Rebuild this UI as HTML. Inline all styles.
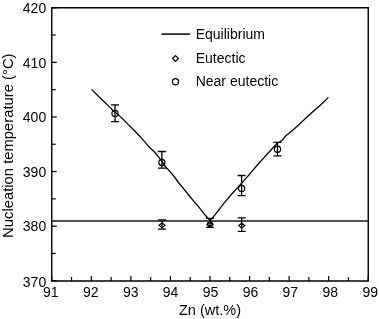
<!DOCTYPE html>
<html><head><meta charset="utf-8"><style>
html,body{margin:0;padding:0;background:#fff;}
body{width:379px;height:319px;overflow:hidden;}
svg{display:block;will-change:transform;filter:blur(0.3px);}
text{font-family:"Liberation Sans",sans-serif;font-size:14px;fill:#000;}
</style></head><body>
<svg width="379" height="319" viewBox="0 0 379 319">
<path d="M51.75 7.75 H368.25 V281 H51.75 Z" fill="none" stroke="#000" stroke-width="1.4"/>
<line x1="51.75" y1="280.75" x2="56.75" y2="280.75" stroke="#000" stroke-width="1.2"/>
<line x1="51.75" y1="253.45" x2="55.75" y2="253.45" stroke="#000" stroke-width="1.2"/>
<line x1="51.75" y1="226.15" x2="56.75" y2="226.15" stroke="#000" stroke-width="1.2"/>
<line x1="51.75" y1="198.85" x2="55.75" y2="198.85" stroke="#000" stroke-width="1.2"/>
<line x1="51.75" y1="171.55" x2="56.75" y2="171.55" stroke="#000" stroke-width="1.2"/>
<line x1="51.75" y1="144.25" x2="55.75" y2="144.25" stroke="#000" stroke-width="1.2"/>
<line x1="51.75" y1="116.95" x2="56.75" y2="116.95" stroke="#000" stroke-width="1.2"/>
<line x1="51.75" y1="89.65" x2="55.75" y2="89.65" stroke="#000" stroke-width="1.2"/>
<line x1="51.75" y1="62.35" x2="56.75" y2="62.35" stroke="#000" stroke-width="1.2"/>
<line x1="51.75" y1="35.05" x2="55.75" y2="35.05" stroke="#000" stroke-width="1.2"/>
<line x1="51.75" y1="7.75" x2="56.75" y2="7.75" stroke="#000" stroke-width="1.2"/>
<line x1="51.75" y1="281" x2="51.75" y2="276.00" stroke="#000" stroke-width="1.2"/>
<line x1="71.53" y1="281" x2="71.53" y2="277.00" stroke="#000" stroke-width="1.2"/>
<line x1="91.31" y1="281" x2="91.31" y2="276.00" stroke="#000" stroke-width="1.2"/>
<line x1="111.09" y1="281" x2="111.09" y2="277.00" stroke="#000" stroke-width="1.2"/>
<line x1="130.88" y1="281" x2="130.88" y2="276.00" stroke="#000" stroke-width="1.2"/>
<line x1="150.66" y1="281" x2="150.66" y2="277.00" stroke="#000" stroke-width="1.2"/>
<line x1="170.44" y1="281" x2="170.44" y2="276.00" stroke="#000" stroke-width="1.2"/>
<line x1="190.22" y1="281" x2="190.22" y2="277.00" stroke="#000" stroke-width="1.2"/>
<line x1="210.00" y1="281" x2="210.00" y2="276.00" stroke="#000" stroke-width="1.2"/>
<line x1="229.78" y1="281" x2="229.78" y2="277.00" stroke="#000" stroke-width="1.2"/>
<line x1="249.56" y1="281" x2="249.56" y2="276.00" stroke="#000" stroke-width="1.2"/>
<line x1="269.34" y1="281" x2="269.34" y2="277.00" stroke="#000" stroke-width="1.2"/>
<line x1="289.12" y1="281" x2="289.12" y2="276.00" stroke="#000" stroke-width="1.2"/>
<line x1="308.91" y1="281" x2="308.91" y2="277.00" stroke="#000" stroke-width="1.2"/>
<line x1="328.69" y1="281" x2="328.69" y2="276.00" stroke="#000" stroke-width="1.2"/>
<line x1="348.47" y1="281" x2="348.47" y2="277.00" stroke="#000" stroke-width="1.2"/>
<line x1="368.25" y1="281" x2="368.25" y2="276.00" stroke="#000" stroke-width="1.2"/>
<text x="46.2" y="12.8" text-anchor="end">420</text>
<text x="46.2" y="67.8" text-anchor="end">410</text>
<text x="46.2" y="121.85" text-anchor="end">400</text>
<text x="46.2" y="176.95" text-anchor="end">390</text>
<text x="46.2" y="231.0" text-anchor="end">380</text>
<text x="46.2" y="286.7" text-anchor="end">370</text>
<text x="50.83" y="297.3" text-anchor="middle">91</text>
<text x="90.75" y="297.3" text-anchor="middle">92</text>
<text x="130.67" y="297.3" text-anchor="middle">93</text>
<text x="170.59" y="297.3" text-anchor="middle">94</text>
<text x="210.51" y="297.3" text-anchor="middle">95</text>
<text x="250.43" y="297.3" text-anchor="middle">96</text>
<text x="290.35" y="297.3" text-anchor="middle">97</text>
<text x="330.27" y="297.3" text-anchor="middle">98</text>
<text x="370.19" y="297.3" text-anchor="middle">99</text>
<text x="210" y="314.8" text-anchor="middle" style="font-size:14.5px">Zn (wt.%)</text>
<text transform="translate(12.8,145.7) rotate(-90)" text-anchor="middle" style="font-size:14.8px">Nucleation temperature (°C)</text>
<line x1="51.75" y1="221.0" x2="368.25" y2="221.0" stroke="#1a1a1a" stroke-width="1.45"/>
<path d="M91.5 89.4 L100.5 98.2 L110.0 107.4 L113.7 111.2 L118.5 114.9 L122.2 118.4 L128.1 124.4 L137.5 133.8 L142.6 139.4 L149.1 146.9 L153.8 151.2 L156.6 154.5 L159.5 158.2 L166.1 167.5 L169.4 170.8 L174.1 176.5 L178.8 183.0 L183.8 188.9 L189.4 196.0 L194.1 201.6 L197.9 205.9 L200.6 209.4 L204.4 214.1 L207.2 217.5 L210.0 220.6 L212.9 217.4 L218.5 210.3 L223.2 204.2 L227.5 199.2 L232.2 193.5 L237.9 187.4 L241.6 183.2 L245.4 178.9 L249.6 174.2 L253.5 169.6 L259.1 163.0 L263.8 157.9 L268.5 152.7 L273.2 147.5 L277.5 143.0 L280.3 141.6 L282.2 140.2 L284.1 137.9 L286.0 135.5 L288.8 133.6 L293.5 129.4 L299.6 124.0 L306.0 118.0 L311.4 113.1 L316.9 108.2 L322.4 103.2 L328.4 97.4" fill="none" stroke="#000" stroke-width="1.3" stroke-linejoin="round"/>
<path d="M115 104.8 V121.7 M111.0 104.8 H119.0 M111.0 121.7 H119.0" stroke="#000" stroke-width="1.3" fill="none"/>
<circle cx="115" cy="113.4" r="3.1" fill="none" stroke="#000" stroke-width="1.2"/>
<path d="M161.9 151.5 V168.2 M157.9 151.5 H165.9 M157.9 168.2 H165.9" stroke="#000" stroke-width="1.3" fill="none"/>
<circle cx="161.9" cy="162.5" r="3.1" fill="none" stroke="#000" stroke-width="1.2"/>
<path d="M241.6 175.5 V195.6 M237.6 175.5 H245.6 M237.6 195.6 H245.6" stroke="#000" stroke-width="1.3" fill="none"/>
<circle cx="241.6" cy="188.4" r="3.1" fill="none" stroke="#000" stroke-width="1.2"/>
<path d="M277.5 142.4 V155.8 M273.5 142.4 H281.5 M273.5 155.8 H281.5" stroke="#000" stroke-width="1.3" fill="none"/>
<circle cx="277.5" cy="149.2" r="3.1" fill="none" stroke="#000" stroke-width="1.2"/>
<path d="M162 219.8 V229.1 M158.0 219.8 H166.0 M158.0 229.1 H166.0" stroke="#000" stroke-width="1.3" fill="none"/>
<path d="M162 222.79999999999998 L165.0 225.2 L162 227.6 L159.0 225.2 Z" fill="none" stroke="#000" stroke-width="1.2"/>
<path d="M241.7 217.9 V231.3 M237.7 217.9 H245.7 M237.7 231.3 H245.7" stroke="#000" stroke-width="1.3" fill="none"/>
<path d="M241.7 223.2 L244.7 225.6 L241.7 228.0 L238.7 225.6 Z" fill="none" stroke="#000" stroke-width="1.2"/>
<path d="M210 218.3 V227.4 M206.0 218.3 H214.0 M206.0 227.4 H214.0" stroke="#000" stroke-width="1.3" fill="none"/>
<circle cx="210" cy="224.3" r="2.5" fill="none" stroke="#000" stroke-width="1.2"/>
<path d="M210 222.4 L213.0 224.3 L210 226.20000000000002 L207.0 224.3 Z" fill="none" stroke="#000" stroke-width="1.2"/>
<line x1="161.7" y1="34.1" x2="189.9" y2="34.1" stroke="#000" stroke-width="1.5"/>
<path d="M175.5 55.65 L178.35 58.5 L175.5 61.35 L172.65 58.5 Z" fill="none" stroke="#000" stroke-width="1.2"/>
<circle cx="175.5" cy="81.8" r="3.1" fill="none" stroke="#000" stroke-width="1.2"/>
<text x="195.7" y="38.9">Equilibrium</text>
<text x="195.7" y="63.2">Eutectic</text>
<text x="195.7" y="86.2">Near eutectic</text>
</svg>
</body></html>
